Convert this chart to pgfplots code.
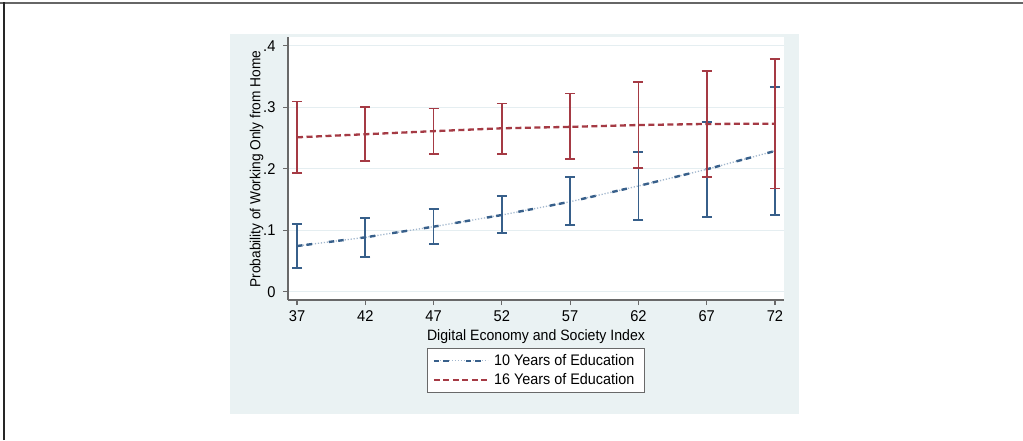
\documentclass[border=0pt]{standalone}
\usepackage{pgfplots}
\pgfplotsset{compat=1.18}
\usepackage{pgfplotstable}
\usepackage{fontspec}
\setmainfont[FakeStretch=0.94]{Liberation Sans}

\definecolor{panel}{RGB}{234,242,243}
\definecolor{gridc}{RGB}{229,238,241}
\definecolor{edu10}{RGB}{55,95,138}
\definecolor{edu10lt}{RGB}{160,182,205}
\definecolor{edu16}{RGB}{165,58,68}
\definecolor{axisc}{RGB}{105,105,105}

\pgfplotsset{
  tenlegend/.style={legend image code/.code={
    \draw[edu10lt, line width=1.2pt, dash pattern=on 1.2pt off 1.8pt] (0pt,0pt) -- (54pt,0pt);
    \draw[##1] (0pt,0pt) -- (54pt,0pt);}},
  sixteenlegend/.style={legend image code/.code={
    \draw[##1] (0pt,0pt) -- (54pt,0pt);}},
  cibars/.style={forget plot, draw=none, #1,
    error bars/.cd, y dir=both, y explicit, error mark=|,
    error bar style={draw=#1, line width=1.7pt, solid},
    error mark options={draw=#1, line width=1.7pt, mark size=5pt, solid}},
}

% Predicted probability with lower and upper confidence bounds
\pgfplotstableread{
x  y      lo     hi
37 0.0743 0.0390 0.1096
42 0.0884 0.0569 0.1203
47 0.1057 0.0771 0.1345
52 0.1247 0.0954 0.1556
57 0.1463 0.1085 0.1860
62 0.1719 0.1161 0.2267
67 0.1990 0.1215 0.2764
72 0.2288 0.1247 0.3323
}\tenyears

\pgfplotstableread{
x  y      lo     hi
37 0.2510 0.1935 0.3090
42 0.2560 0.2130 0.3000
47 0.2610 0.2244 0.2980
52 0.2657 0.2244 0.3060
57 0.2680 0.2158 0.3220
62 0.2710 0.2016 0.3405
67 0.2727 0.1860 0.3590
72 0.2732 0.1680 0.3780
}\sixteenyears

\begin{document}
\begin{tikzpicture}
\path[use as bounding box] (0pt,0pt) rectangle (1023pt,440pt);
\fill[white] (0pt,0pt) rectangle (1023pt,440pt);
\draw[black!60, line width=2pt] (0pt,436.5pt) -- (1023pt,436.5pt);
\draw[black!85, line width=1.8pt] (3.6pt,0pt) -- (3.6pt,437.5pt);
\fill[panel] (230pt,26pt) rectangle (799pt,406pt);
\begin{axis}[
  at={(288pt,140pt)}, anchor=south west,
  scale only axis, width=496pt, height=263pt,
  xmin=36.34, xmax=72.66, ymin=-0.0135, ymax=0.4141,
  axis x line*=bottom, axis y line*=left,
  axis line style={axisc, line width=1.2pt},
  axis background/.style={fill=white},
  xtick={37,42,47,52,57,62,67,72},
  xticklabels={37,42,47,52,57,62,67,72},
  ytick={0,0.1,0.2,0.3,0.4},
  yticklabels={0,.1,.2,.3,.4},
  tick align=outside, major tick length=5pt,
  tick style={axisc, line width=1.2pt},
  ymajorgrids, grid style={gridc, line width=1.3pt},
  tick label style={font=\fontsize{15.6}{19}\selectfont, black},
  xticklabel style={yshift=-2pt},
  yticklabel style={xshift=-4pt},
  label style={font=\fontsize{14.6}{18}\selectfont, black},
  xlabel={Digital Economy and Society Index},
  ylabel={Probability of Working Only from Home},
  xlabel style={at={(axis description cs:0.5,-0.14)}, font=\fontsize{15}{18}\selectfont, anchor=center},
  ylabel style={at={(axis description cs:-0.0635,0.498)}, anchor=center},
  legend style={at={(axis description cs:0.5,-0.1814)}, anchor=north,
    draw=axisc, line width=1pt, fill=white,
    font=\fontsize{15.3}{18}\selectfont,
    inner xsep=5pt, inner ysep=3pt, row sep=0pt,
    nodes={inner ysep=3.2pt, inner xsep=5pt}},
  legend cell align=left,
]
% faint dotted trace beneath the dashed line for 10 years
\addplot[forget plot, edu10lt, line width=1.3pt, dash pattern=on 1.2pt off 1.8pt, mark=none]
  table[x=x, y=y] {\tenyears};
\addplot[edu10, line width=2.4pt, dash pattern=on 5.5pt off 4pt on 5.5pt off 17pt, mark=none, tenlegend]
  table[x=x, y=y] {\tenyears};
\addlegendentry{10 Years of Education}
\addplot[edu16, line width=2.3pt, dash pattern=on 6pt off 3.5pt, mark=none, sixteenlegend]
  table[x=x, y=y] {\sixteenyears};
\addlegendentry{16 Years of Education}
% confidence intervals
\addplot[cibars=edu10]
  table[x=x, y=y, y error plus expr=\thisrow{hi}-\thisrow{y},
        y error minus expr=\thisrow{y}-\thisrow{lo}] {\tenyears};
\addplot[cibars=edu16]
  table[x=x, y=y, y error plus expr=\thisrow{hi}-\thisrow{y},
        y error minus expr=\thisrow{y}-\thisrow{lo}] {\sixteenyears};
\end{axis}
\end{tikzpicture}
\end{document}
